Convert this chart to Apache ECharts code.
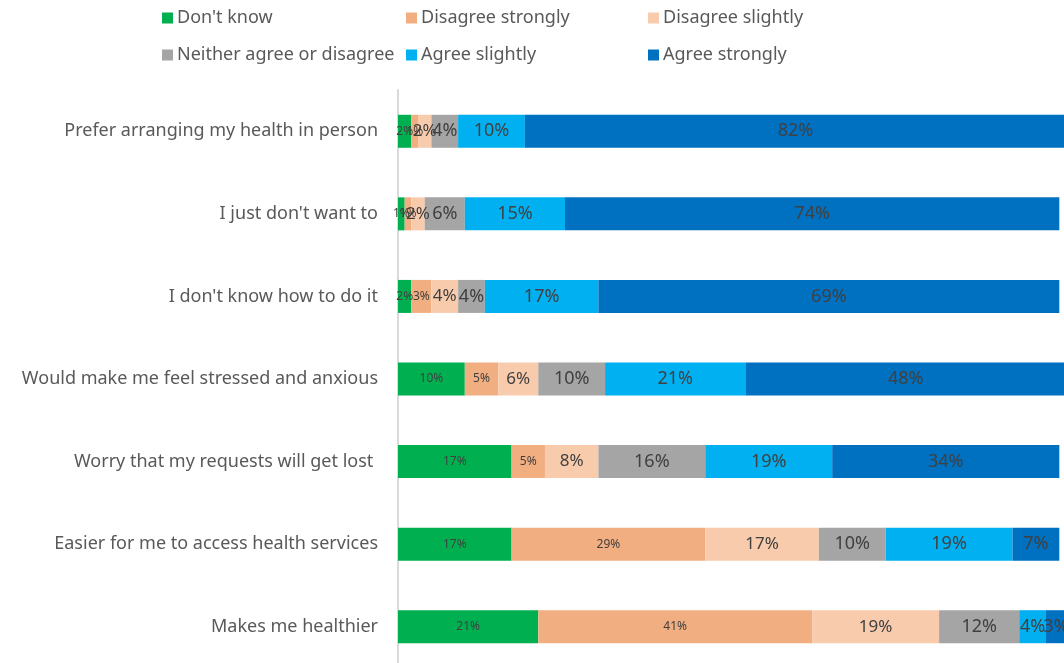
<!DOCTYPE html>
<html>
<head>
<meta charset="utf-8">
<style>
  html, body { margin: 0; padding: 0; background: #ffffff; }
  #chart { width: 1064px; height: 663px; }
</style>
<script src="https://cdn.jsdelivr.net/npm/echarts@6/dist/echarts.min.js"></script>
</head>
<body>
<div id="chart"></div>
<script>
// Survey statements, listed top to bottom
const categories = [
  'Prefer arranging my health in person',
  "I just don't want to",
  "I don't know how to do it",
  'Would make me feel stressed and anxious',
  'Worry that my requests will get lost ',
  'Easier for me to access health services',
  'Makes me healthier'
];

const seriesNames = [
  "Don't know",
  'Disagree strongly',
  'Disagree slightly',
  'Neither agree or disagree',
  'Agree slightly',
  'Agree strongly'
];

// Percentages per response, one value per statement
const dontKnow          = [2, 1, 2, 10, 17, 17, 21];
const disagreeStrongly  = [1, 1, 3, 5, 5, 29, 41];
const disagreeSlightly  = [2, 2, 4, 6, 8, 17, 19];
const neither           = [4, 6, 4, 10, 16, 10, 12];
const agreeSlightly     = [10, 15, 17, 21, 19, 19, 4];
const agreeStrongly     = [82, 74, 69, 48, 34, 7, 3];

const seriesValues = [dontKnow, disagreeStrongly, disagreeSlightly, neither, agreeSlightly, agreeStrongly];
const colors = ['#00b050', '#f1ae81', '#f8cbad', '#a5a5a5', '#00b0f0', '#0070c0'];
const labelSizes = [12, 12, 17, 18, 18, 18];

const FONT = '"Noto Sans", "Open Sans", sans-serif';
const TEXT = '#404040';
const SOFT = '#595959';

const series = seriesNames.map((name, i) => ({
  name: name,
  type: 'bar',
  stack: 'total',
  barWidth: 33,
  itemStyle: { color: colors[i] },
  label: {
    show: true,
    position: 'inside',
    formatter: '{c}%',
    color: TEXT,
    fontFamily: FONT,
    fontSize: labelSizes[i]
  },
  emphasis: { disabled: true },
  data: seriesValues[i]
}));

// Legend laid out as a 3 x 2 grid
const legendCols = [157, 401, 643];
const legendRows = [4, 41];
const legends = seriesNames.map((name, i) => ({
  data: [name],
  left: legendCols[i % 3],
  top: legendRows[Math.floor(i / 3)],
  itemWidth: 11,
  itemHeight: 11,
  itemGap: 0,
  icon: 'rect',
  selectedMode: false,
  textStyle: { color: SOFT, fontFamily: FONT, fontSize: 18, padding: [0, 0, 0, -1] }
}));

const chart = echarts.init(document.getElementById('chart'), null, { renderer: 'canvas' });
chart.setOption({
  animation: false,
  backgroundColor: '#ffffff',
  color: colors,
  legend: legends,
  grid: {
    left: 398, top: 90, width: 668, height: 578,
    containLabel: false,
    outerBoundsMode: 'none'
  },
  xAxis: {
    type: 'value',
    min: 0,
    max: 100,
    show: false
  },
  yAxis: {
    type: 'category',
    inverse: true,
    data: categories,
    axisLine: { show: true, lineStyle: { color: '#d9d9d9', width: 2 } },
    axisTick: { show: false },
    axisLabel: { color: SOFT, fontFamily: FONT, fontSize: 18, margin: 20 }
  },
  series: series
});
</script>
</body>
</html>
